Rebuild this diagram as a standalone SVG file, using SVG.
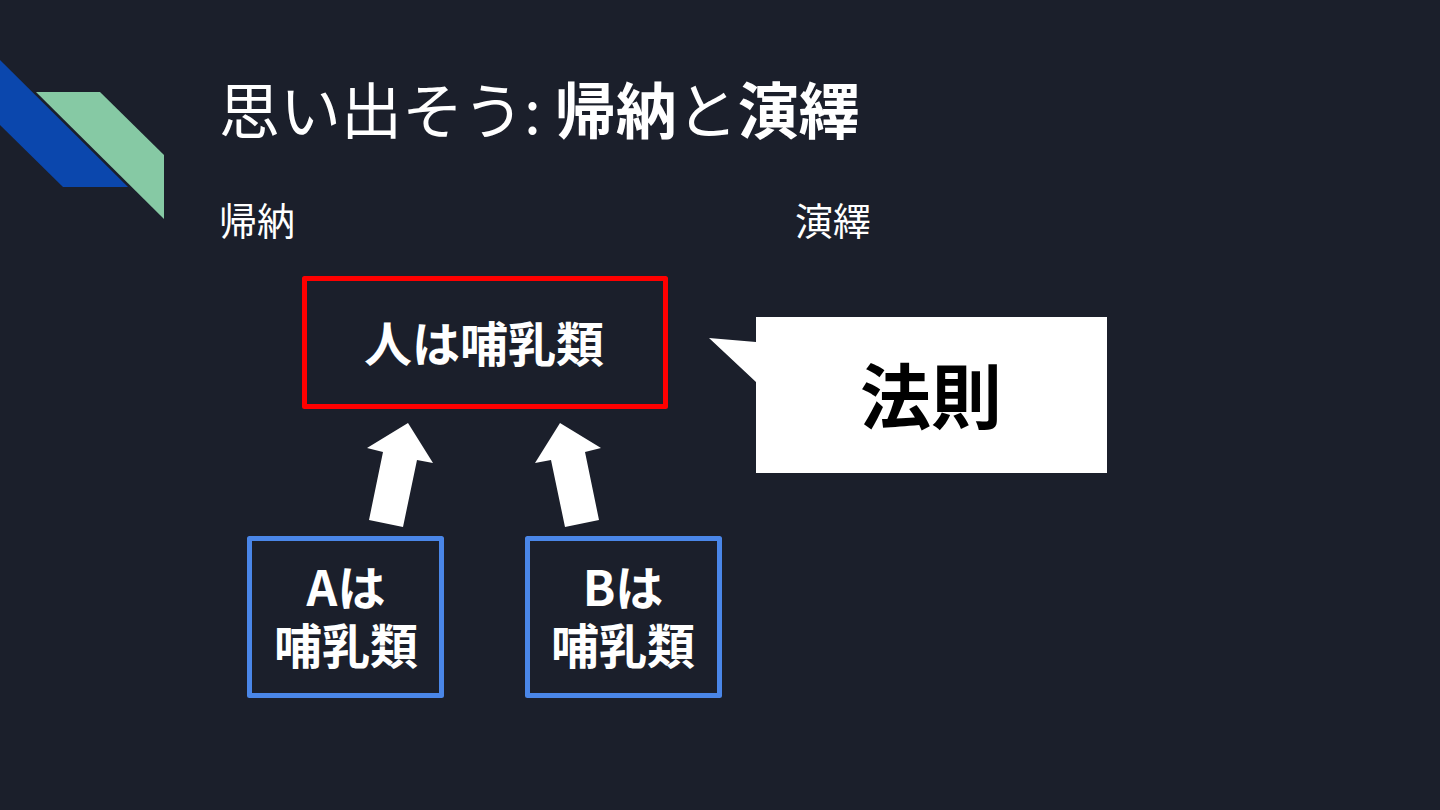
<svg xmlns="http://www.w3.org/2000/svg" width="1440" height="810" viewBox="0 0 1440 810">
<style>
.t{font-family:"Noto Sans CJK JP","Noto Sans",sans-serif;fill:#ffffff}
.b{font-weight:700}
.box{fill:none;stroke-width:5;stroke-linejoin:round}
.arrow{fill:#ffffff}
</style>
<rect x="0" y="0" width="1440" height="810" fill="#1b1f2b"/>
<g id="decoration">
<polygon points="0,60 128,187 63,187 0,125" fill="#0b47ad"/>
<polygon points="36,92 100,92 164,155 164,219" fill="#86c9a4"/>
</g>
<g id="title">
<text class="t" x="219" y="134" font-size="61">思い出そう: <tspan class="b">帰納</tspan>と<tspan class="b">演繹</tspan></text>
</g>
<g id="label-induction"><text class="t" x="219" y="235" font-size="38">帰納</text></g>
<g id="label-deduction"><text class="t" x="795" y="235" font-size="38">演繹</text></g>
<g id="node-rule">
<rect class="box" x="304.5" y="278.5" width="361" height="128" stroke="#ff0000"/>
<text class="t b" x="484" y="362" font-size="48" text-anchor="middle">人は哺乳類</text>
</g>
<g id="node-a">
<rect class="box" x="249.5" y="538.5" width="192" height="157" stroke="#4a86e8"/>
<text class="t b" font-size="48" text-anchor="middle"><tspan x="346" y="606">Aは</tspan><tspan x="346" y="664">哺乳類</tspan></text>
</g>
<g id="node-b">
<rect class="box" x="527.5" y="538.5" width="192" height="157" stroke="#4a86e8"/>
<text class="t b" font-size="48" text-anchor="middle"><tspan x="623" y="606">Bは</tspan><tspan x="623" y="664">哺乳類</tspan></text>
</g>
<g id="callout">
<polygon points="756,317 1107,317 1107,473 756,473 756,382 709,338 756,342" fill="#ffffff"/>
<text x="931" y="423" font-size="71" font-weight="700" text-anchor="middle" font-family="'Noto Sans CJK JP','Noto Sans',sans-serif" fill="#000000">法則</text>
</g>
<g id="connectors">
<polygon class="arrow" points="408,423 433,463 417,460 403,527 369,520 383,452 367,448"/>
<polygon class="arrow" points="560,423 535,463 551,460 565,527 599,520 585,452 601,448"/>
</g>
</svg>
